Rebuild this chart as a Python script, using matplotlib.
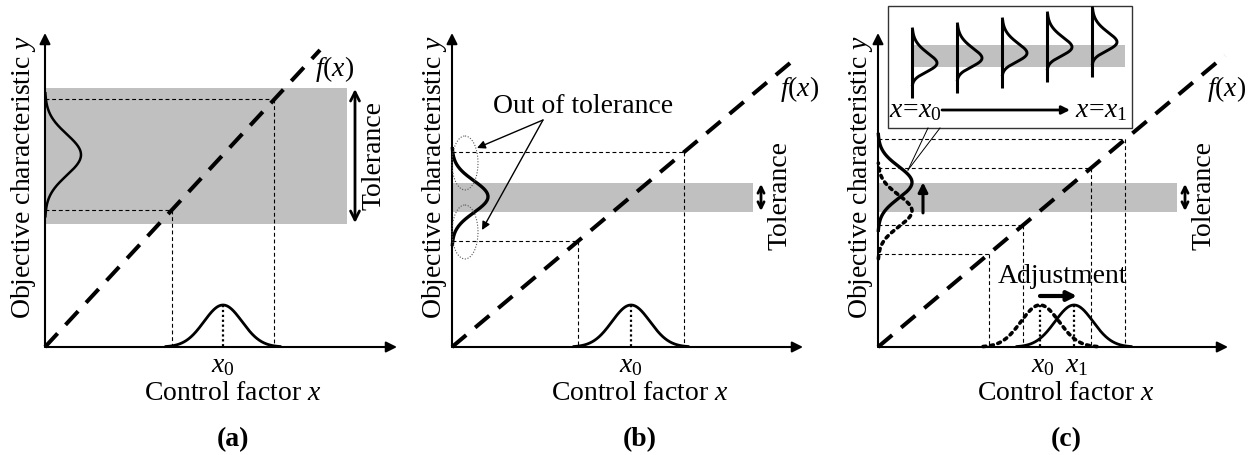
import math
import numpy as np
import matplotlib
matplotlib.use('Agg')
import matplotlib.pyplot as plt
from matplotlib.patches import Rectangle, Ellipse

plt.rcParams['font.family'] = ['Liberation Serif', 'DejaVu Serif']
plt.rcParams['mathtext.fontset'] = 'custom'
plt.rcParams['mathtext.rm'] = 'Liberation Serif'
plt.rcParams['mathtext.it'] = 'Liberation Serif:italic'
plt.rcParams['mathtext.bf'] = 'Liberation Serif:bold'

# ---------------- data (schematic values, panel-local units) ----------------
panel_labels = ['(a)', '(b)', '(c)']
x_axis_label = 'Control factor $x$'
y_axis_label = 'Objective characteristic $y$'
curve_label = '$f(x)$'
tolerance_label = 'Tolerance'
out_label = 'Out of tolerance'
adjust_label = 'Adjustment'

slopes = [1.08, 0.84, 0.84]          # slope of f(x)
x0_values = [178, 179, 162]          # nominal control factor x0
x1_value = 196                       # adjusted control factor x1 (panel c)
sigma_x = 19                         # spread of x
spread_k = [2.7, 2.8, 2.7]           # extent used for the projection lines
tol_low = [123, 135, 135]            # tolerance band (y units)
tol_high = [259, 164, 164]
tol_right = [302, 301, 299]
line_end = [275, 346, 347]
x_axis_len = [352, 351, 350]
y_axis_len = 314

# inset (panel c): skewed y-distributions while x moves from x0 to x1
inset_peaks = [63, 58, 53, 47, 42]
inset_base = [912, 957, 1002, 1047, 1092]

# ---------------- layout ----------------
W, H = 1259, 455
origin_x = [45, 452, 878]
origin_y = 347
FS = 20

fig = plt.figure(figsize=(W / 100, H / 100), dpi=100)
ax = fig.add_axes([0, 0, 1, 1])
ax.set_xlim(0, W)
ax.set_ylim(H, 0)
ax.axis('off')

def gauss(t):
    return np.exp(-0.5 * t ** 2)

def arrow(p0, p1, lw=1.5, ms=16, style='-|>', color='k', z=6):
    ax.annotate('', xy=p1, xytext=p0,
                arrowprops=dict(arrowstyle=style, lw=lw, color=color,
                                shrinkA=0, shrinkB=0, mutation_scale=ms),
                zorder=z)

thin_dash = (0, (3.5, 2.5))
fx_dash = (0, (4.6, 2.9))

for i in range(3):
    ox = origin_x[i]
    k = slopes[i]
    X = lambda u: ox + u
    Y = lambda v: origin_y - v

    # tolerance band
    ax.add_patch(Rectangle((X(0), Y(tol_high[i])), tol_right[i], tol_high[i] - tol_low[i],
                           facecolor='#c0c0c0', edgecolor='none', zorder=1))

    # projection lines
    if i < 2:
        centers = [(x0_values[i], '-')]
    else:
        centers = [(x0_values[i], ':'), (x1_value, '-')]
    for c, ls in centers:
        for u in (c - spread_k[i] * sigma_x, c + spread_k[i] * sigma_x):
            ax.plot([X(0), X(u)], [Y(k * u), Y(k * u)], color='k', lw=0.8,
                    ls=thin_dash, zorder=3)
            ax.plot([X(u), X(u)], [Y(k * u), Y(0)], color='k', lw=0.8,
                    ls=thin_dash, zorder=3)

    # f(x) line
    ax.plot([X(0), X(line_end[i])], [Y(0), Y(k * line_end[i])], color='k', lw=2.9,
            ls=fx_dash, zorder=4)

    # distributions
    t = np.linspace(-3, 3, 300)
    for c, ls in centers:
        if ls == '-':
            style = dict(color='k', lw=2.0, ls='-', zorder=5)
            ystyle = dict(color='k', lw=1.8 if i == 0 else 2.4, ls='-', zorder=5)
        else:
            style = dict(color='k', lw=2.6, ls=(0, (0.8, 1.3)), zorder=5,
                         dash_capstyle='round')
            ystyle = style
        # on x axis
        ax.plot(X(c + t * sigma_x), Y(42 * gauss(t)), **style)
        ax.plot([X(c), X(c)], [Y(42), Y(0)], color='k', lw=1.6,
                ls=(0, (1, 1.2)), zorder=5)
        # on y axis
        tt = np.linspace(-3.0, 3.0, 300)
        wy = 36 if i < 2 else 34
        ax.plot(X(wy * gauss(tt)), Y(k * c + tt * k * sigma_x), **ystyle)

    # axes
    arrow((X(0), Y(0)), (X(x_axis_len[i]), Y(0)))
    arrow((X(0), Y(0)), (X(0), Y(y_axis_len)))

    # tolerance arrow
    xt = X(tol_right[i] + 8)
    if i == 0:
        arrow((xt, Y(tol_low[i]) - 1), (xt, Y(tol_high[i]) + 1), lw=2.0, ms=16, style='<->')
    else:
        arrow((xt, Y(tol_low[i]) - 1), (xt, Y(tol_high[i]) + 1), lw=2.0, ms=11, style='<->')
    ax.text(xt + 19, (Y(tol_low[i]) + Y(tol_high[i])) / 2 if i == 0 else 195,
            tolerance_label, rotation=90, ha='center', va='center', fontsize=FS)

    # labels
    ax.text(X(line_end[i]) + (15 if i == 0 else 2), Y(k * line_end[i]) + (26 if i == 0 else 40),
            curve_label, ha='center', va='baseline', fontsize=FS)
    ax.text(ox - 21 if i == 0 else ox - 17, 177, y_axis_label, rotation=90,
            ha='center', va='center', fontsize=FS)
    ax.text(X(188), 400, x_axis_label, ha='center', va='baseline', fontsize=FS)
    ax.text(X(188), 446, panel_labels[i], ha='center', va='baseline',
            fontsize=FS, fontweight='bold')
    if i < 2:
        ax.text(X(x0_values[i]), 372, '$x_0$', ha='center', va='baseline', fontsize=FS)
    else:
        ax.text(X(x0_values[i]) + 3, 372, '$x_0$', ha='center', va='baseline', fontsize=FS)
        ax.text(X(x1_value) + 3, 372, '$x_1$', ha='center', va='baseline', fontsize=FS)

# ---- panel (b) extras ----
ox = origin_x[1]
for yc in (163, 232):
    ax.add_patch(Ellipse((ox + 13, yc), 26, 54, facecolor='none', edgecolor='#555555',
                         lw=0.8, ls=(0, (1, 1.5)), zorder=6))
ax.text(583, 113, out_label, ha='center', va='baseline', fontsize=FS)
arrow((543, 120), (477, 148), lw=1.0, ms=12)
arrow((543, 120), (482, 230), lw=1.0, ms=12)

# ---- panel (c) extras ----
ox = origin_x[2]
k = slopes[2]
arrow((ox + 45, origin_y - k * x0_values[2] + 2), (ox + 45, origin_y - k * x1_value), lw=2.2, ms=14)
arrow((ox + x0_values[2], 296), (ox + x1_value + 3, 296), lw=3.0, ms=14)
ax.text(1062, 283, adjust_label, ha='center', va='baseline', fontsize=FS)

# inset box
ax.add_patch(Rectangle((888, 6), 244, 122, facecolor='white', edgecolor='#333333',
                       lw=1.0, zorder=7))
ax.add_patch(Rectangle((912, 45), 213, 22, facecolor='#c0c0c0', edgecolor='none', zorder=8))
# callout
ax.plot([908, 928], [170, 128], color='k', lw=0.7, zorder=7)
ax.plot([908, 940], [170, 128], color='k', lw=0.7, zorder=7)

s = np.linspace(-5, 5, 2000)
phi = np.exp(-0.5 * s ** 2)
Phi = 0.5 * (1 + np.vectorize(math.erf)(-2.0 * s / math.sqrt(2)))
pdf = phi * Phi
pdf = pdf / pdf.max()
mask = pdf > 0.02
s_mode = s[np.argmax(pdf)]
s_lo = s[mask].min()
scale = 34 / (s_mode - s_lo)
for xb, yp in zip(inset_base, inset_peaks):
    ax.plot([xb, xb], [yp - 34, yp + 35], color='k', lw=2.2, zorder=9,
            solid_capstyle='butt')
    ax.plot(xb + 25 * pdf[mask], yp + (s[mask] - s_mode) * scale, color='k', lw=2.1,
            zorder=9)
ax.text(889, 117, '$x\\!=\\!x_0$', ha='left', va='baseline', fontsize=FS, zorder=10)
ax.text(1075, 117, '$x\\!=\\!x_1$', ha='left', va='baseline', fontsize=FS, zorder=10)
arrow((942, 110), (1070, 110), lw=2.0, ms=12, z=10)

fig.savefig('out.png', dpi=100)
